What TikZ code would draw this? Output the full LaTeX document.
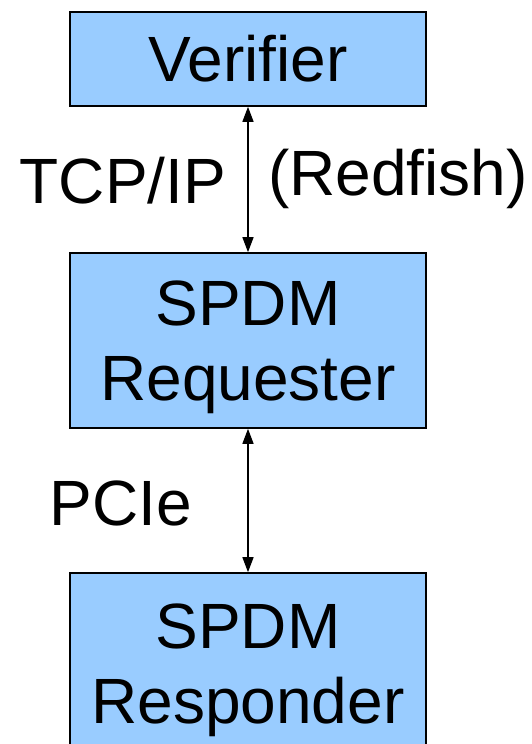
\documentclass[tikz,border=0pt]{standalone}
\usepackage{fontspec}
\setmainfont{Liberation Sans}
\usetikzlibrary{arrows.meta}
\definecolor{boxblue}{HTML}{99CCFF}
\newcommand{\topstrut}{\rule{0pt}{59pt}}
\tikzset{
  block/.style={draw=black, line width=1.6pt, fill=boxblue, minimum width=356pt,
    align=center, inner sep=0pt, font=\fontsize{64}{75}\selectfont},
  link/.style={line width=1.4pt, {Triangle[width=11pt,length=15pt]}-{Triangle[width=11pt,length=15pt]}},
  tag/.style={inner sep=0pt, font=\fontsize{64}{75}\selectfont}
}
\begin{document}
\begin{tikzpicture}[x=1pt,y=-1pt]
  \useasboundingbox (0,0) rectangle (531,744);
  \clip (0,0) rectangle (531,744);
  \node[block, minimum height=94pt] (ver) at (248,59) {Verifier};
  \node[block, minimum height=175pt] (req) at (248,340.5) {\topstrut SPDM\\Requester};
  \node[block, minimum height=180pt] (rsp) at (248,663) {\topstrut SPDM\\Responder};
  \draw[link] (ver.south) -- (req.north);
  \draw[link] (req.south) -- (rsp.north);
  \node[tag] (tcp) at (123,181) {TCP/IP};
  \node[tag] (red) at (398,179) {(Redfish)};
  \node[tag] (pci) at (121,503) {PCIe};
\end{tikzpicture}
\end{document}
